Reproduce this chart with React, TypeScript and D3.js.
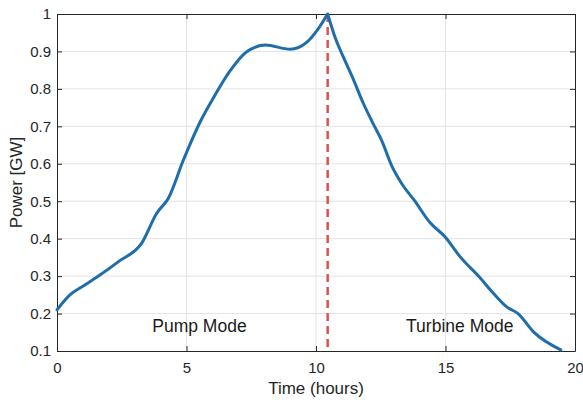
import React, { useEffect, useRef } from 'react';
import * as d3 from 'd3';

// time (hours) and pumped/generated power (GW)
const timeHours = [0, 0.5, 1, 1.6, 2.4, 3.27, 3.85, 4.3, 4.88, 5.55, 6.03, 6.68, 7.3, 8.05, 9.0, 9.65, 10.05, 10.45,
  10.75, 11.05, 11.45, 11.83, 12.2, 12.55, 12.92, 13.3, 13.82, 14.4, 14.98, 15.56, 16.3, 16.85, 17.36, 17.8, 18.4, 19.45];
const powerGW = [0.21, 0.25, 0.273, 0.3, 0.34, 0.388, 0.468, 0.508, 0.61, 0.715, 0.775, 0.848, 0.898, 0.917, 0.906, 0.925, 0.957, 1.0,
  0.935, 0.886, 0.824, 0.761, 0.708, 0.66, 0.595, 0.548, 0.5, 0.443, 0.405, 0.352, 0.298, 0.254, 0.218, 0.2, 0.151, 0.103];
const switchTime = 10.45;
const xTicks = [0, 5, 10, 15, 20];
const yTicks = [0.1, 0.2, 0.3, 0.4, 0.5, 0.6, 0.7, 0.8, 0.9, 1];
const modeLabels = [{ text: 'Pump Mode', t: 5.5 }, { text: 'Turbine Mode', t: 15.55 }];

export default function App() {
  const ref = useRef<SVGSVGElement>(null);

  useEffect(() => {
    const svg = d3.select(ref.current);
    svg.selectAll('*').remove();
    const left = 57, right = 575, top = 14, bottom = 351;
    const font = 'Liberation Sans, Arial, Helvetica, sans-serif';
    const axisColor = '#262626';

    const x = d3.scaleLinear().domain([0, 20]).range([left, right]);
    const y = d3.scaleLinear().domain([0.1, 1]).range([bottom, top]);

    // grid
    const grid = svg.append('g').attr('stroke', '#e3e3e3').attr('stroke-width', 1);
    grid.selectAll('line.gx').data(xTicks.slice(1, -1)).enter().append('line')
      .attr('x1', d => x(d)).attr('x2', d => x(d)).attr('y1', top).attr('y2', bottom);
    grid.selectAll('line.gy').data(yTicks.slice(1, -1)).enter().append('line')
      .attr('x1', left).attr('x2', right).attr('y1', d => y(d)).attr('y2', d => y(d));

    // axes (ticks pointing inward, box on)
    const styleAxis = (g: any) => {
      g.select('.domain').attr('stroke', axisColor);
      g.selectAll('.tick line').attr('stroke', axisColor);
      g.selectAll('.tick text').attr('fill', axisColor).style('font-size', '15px').style('font-family', font);
    };
    svg.append('g').attr('transform', `translate(0,${bottom})`)
      .call(d3.axisBottom(x).tickValues(xTicks).tickSizeInner(-5).tickSizeOuter(0).tickPadding(11).tickFormat(d3.format('d')))
      .call(styleAxis);
    svg.append('g').attr('transform', `translate(${left},0)`)
      .call(d3.axisLeft(y).tickValues(yTicks).tickSizeInner(-5).tickSizeOuter(0).tickPadding(6).tickFormat(d => d3.format('')(+d)))
      .call(styleAxis);
    svg.append('g').attr('transform', `translate(0,${top})`)
      .call(d3.axisTop(x).tickValues(xTicks).tickSizeInner(-5).tickSizeOuter(0).tickFormat(() => ''))
      .call(styleAxis);
    svg.append('g').attr('transform', `translate(${right},0)`)
      .call(d3.axisRight(y).tickValues(yTicks).tickSizeInner(-5).tickSizeOuter(0).tickFormat(() => ''))
      .call(styleAxis);

    // mode switch marker
    svg.append('line')
      .attr('x1', x(switchTime)).attr('x2', x(switchTime))
      .attr('y1', y(1)).attr('y2', y(0.1))
      .attr('stroke', '#d9534f').attr('stroke-width', 2.5).attr('stroke-dasharray', '8 5');

    // power curve: rising and falling halves drawn separately so the peak stays sharp
    const pts = timeHours.map((t, i) => [t, powerGW[i]] as [number, number]);
    const line = d3.line<[number, number]>().x(d => x(d[0])).y(d => y(d[1])).curve(d3.curveMonotoneX);
    const rise = pts.filter(d => d[0] <= switchTime);
    const fall = pts.filter(d => d[0] >= switchTime);
    svg.append('path')
      .attr('d', (line(rise) || '') + (line(fall) || ''))
      .attr('fill', 'none').attr('stroke', '#1f6eaa').attr('stroke-width', 3)
      .attr('stroke-linejoin', 'round').attr('stroke-linecap', 'round');

    // labels
    svg.selectAll('text.mode').data(modeLabels).enter().append('text')
      .attr('x', d => x(d.t)).attr('y', 332).attr('text-anchor', 'middle')
      .style('font-family', font).style('font-size', '17.5px').attr('fill', '#1a1a1a')
      .text(d => d.text);
    svg.append('text').attr('x', (left + right) / 2).attr('y', 394).attr('text-anchor', 'middle')
      .style('font-family', font).style('font-size', '17px').attr('fill', axisColor).text('Time (hours)');
    svg.append('text').attr('transform', `translate(22,${(top + bottom) / 2}) rotate(-90)`).attr('text-anchor', 'middle')
      .style('font-family', font).style('font-size', '17px').attr('fill', axisColor).text('Power [GW]');
  }, []);

  return (
    <svg ref={ref} width={583} height={403}
      style={{ position: 'absolute', left: 0, top: 0, background: '#fff', display: 'block' }} />
  );
}
